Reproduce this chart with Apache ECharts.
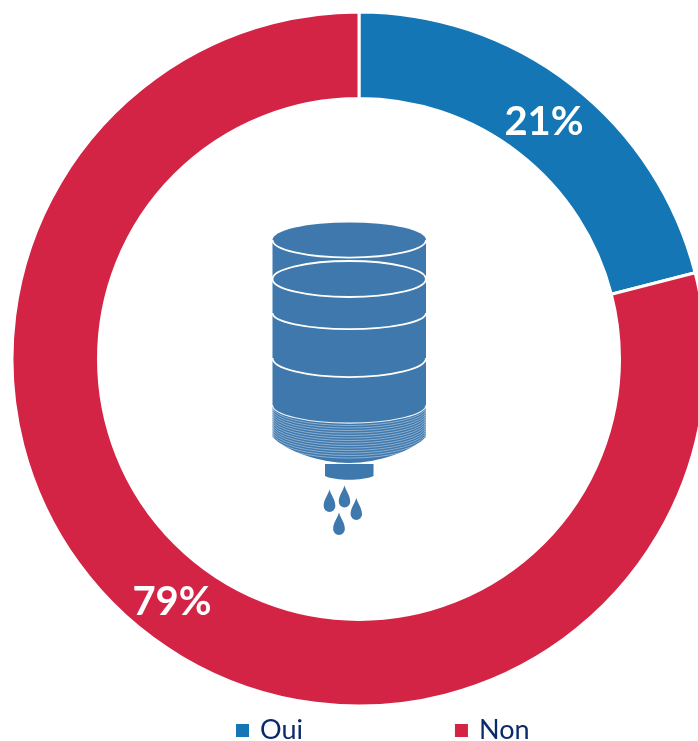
<!DOCTYPE html>
<html>
<head>
<meta charset="utf-8">
<title>Oui / Non</title>
<script src="https://cdn.jsdelivr.net/npm/echarts@6/dist/echarts.min.js"></script>
<style>
	html, body { margin: 0; padding: 0; background: #fff; }
	#chart { width: 698px; height: 741px; }
</style>
</head>
<body>
<div id="chart"></div>
<script>
var categories = ['Oui', 'Non'];
var values = [21, 79];
var colors = ['#1476B5', '#D42445'];

var iconBlue = '#3E78AD';

// graphic has no plain svg path type, so every outline gets registered as a shape
var shapeCount = 0;
function svgPath(d, style) {
	var name = 'iconPath' + (shapeCount++);
	echarts.graphic.registerShape(name, echarts.graphic.extendPath(d, {}));
	return { type: name, style: style };
}

// the barrel in the middle of the ring, purely decorative
function arcLine(y, sag, width, opacity) {
	return svgPath('M272.5 ' + y + ' A76.5 ' + sag + ' 0 0 0 426 ' + y,
		{ fill: null, stroke: '#fff', lineWidth: width, opacity: opacity });
}

function drop(x, top, bottom) {
	var h = bottom - top;
	var r = h * 0.26;
	return svgPath('M' + x + ' ' + top +
		' C' + (x + r * 0.35) + ' ' + (top + h * 0.3) + ' ' + (x + r) + ' ' + (top + h * 0.45) + ' ' + (x + r) + ' ' + (bottom - r) +
		' A' + r + ' ' + r + ' 0 0 1 ' + (x - r) + ' ' + (bottom - r) +
		' C' + (x - r) + ' ' + (top + h * 0.45) + ' ' + (x - r * 0.35) + ' ' + (top + h * 0.3) + ' ' + x + ' ' + top + ' Z',
		{ fill: iconBlue });
}

function buildIcon() {
	var items = [];
	items.push(svgPath('M272.5 240 A76.5 17.5 0 0 1 426 240 L426 437 C412 451 378 463 349 463 C320 463 286 451 272.5 437 Z', { fill: iconBlue }));
	items.push(arcLine(240, 17.5, 1.8, 1));
	items.push({
		type: 'ellipse',
		shape: { cx: 349.2, cy: 279, rx: 76.7, ry: 18 },
		style: { fill: null, stroke: '#fff', lineWidth: 1.8 }
	});
	items.push(arcLine(313, 16, 1.8, 1));
	items.push(arcLine(358, 19, 1.8, 1));
	items.push(arcLine(405, 18, 1.2, 0.9));
	for (var i = 1; i <= 14; i++) {
		items.push(arcLine(405 + i * 2.3, 18 + i * 0.2, 0.9, 0.45));
	}
	items.push(svgPath('M325 464 L373.5 464 L373.5 476 C362 481 336 481 325 476 Z', { fill: iconBlue }));
	items.push(drop(329.5, 489.5, 512));
	items.push(drop(344.5, 485.5, 507.5));
	items.push(drop(356.3, 498, 520));
	items.push(drop(339, 512.5, 535));
	return items;
}

var labelShift = [[-3, 5], [1, 1]];

var pieData = [];
for (var i = 0; i < categories.length; i++) {
	pieData.push({
		name: categories[i],
		value: values[i],
		itemStyle: { color: colors[i] },
		label: { offset: labelShift[i] }
	});
}

var myChart = echarts.init(document.getElementById('chart'));
myChart.setOption({
	animation: false,
	legend: {
		data: categories,
		left: 234,
		top: 717,
		padding: 0,
		icon: 'rect',
		itemWidth: 15,
		itemHeight: 15,
		itemGap: 150,
		textStyle: { color: '#0B2A6B', fontFamily: 'Lato', fontSize: 27, padding: [0, 0, 6, 5] }
	},
	series: [{
		type: 'pie',
		center: [359, 359],
		radius: [260.5, 347],
		startAngle: 90,
		clockwise: true,
		silent: true,
		itemStyle: { borderColor: '#fff', borderWidth: 3 },
		label: {
			position: 'inside',
			formatter: '{c}%',
			color: '#fff',
			fontFamily: 'Lato',
			fontWeight: 'bold',
			fontSize: 40
		},
		labelLine: { show: false },
		data: pieData
	}],
	graphic: { elements: buildIcon() }
});
</script>
</body>
</html>
